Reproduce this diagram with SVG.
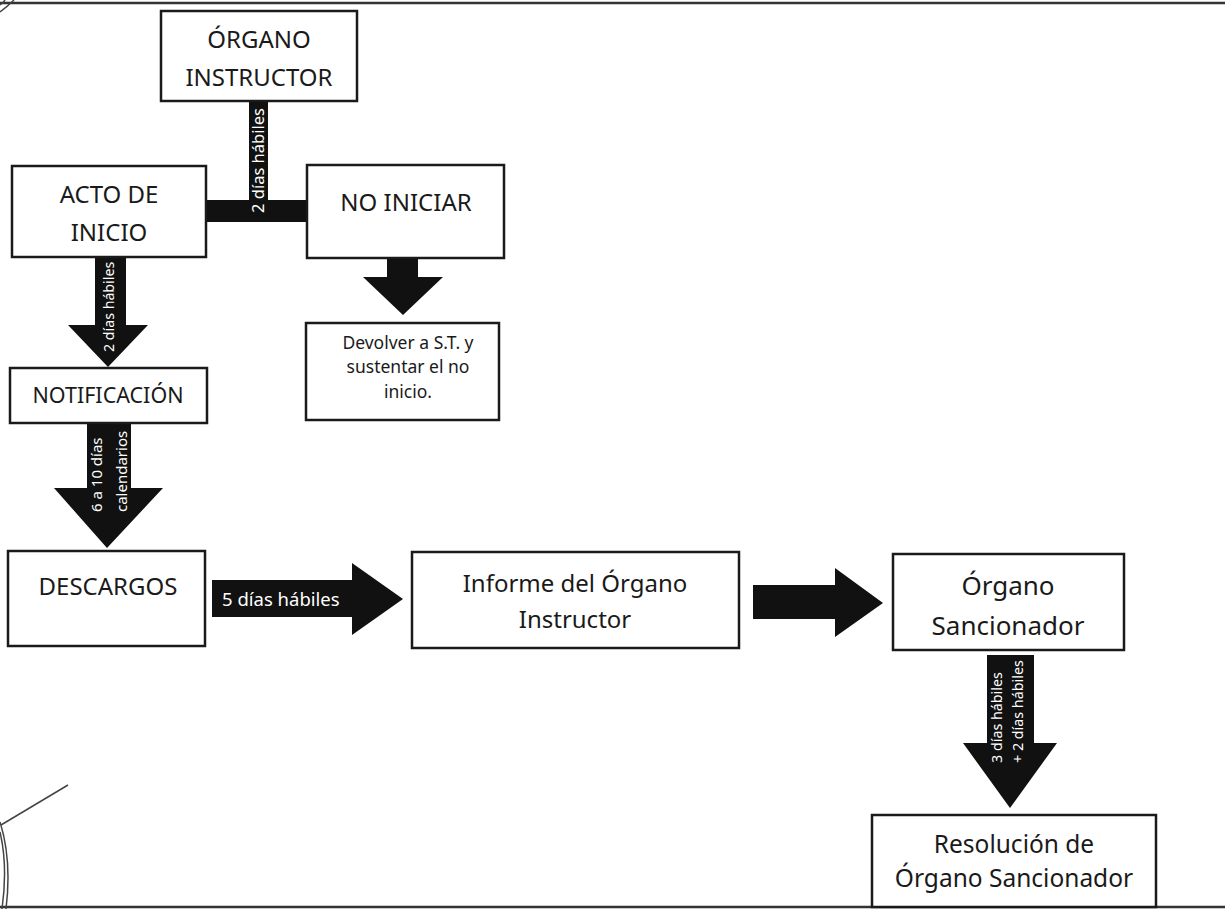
<svg xmlns="http://www.w3.org/2000/svg" width="1225" height="909" viewBox="0 0 1225 909">
<style>
.box{fill:#fff;stroke:#1a1a1a;stroke-width:2.5}
.lbl{font-family:"Noto Sans","Open Sans",sans-serif;font-size:24px;fill:#1a1a1a;text-anchor:middle}
.sm{font-size:17.5px}
.arr{fill:#111}
.wt{font-family:"Noto Sans","Open Sans",sans-serif;fill:#fff;font-size:15px}
.frame{stroke:#333;stroke-width:2.5;fill:none}
.stamp{stroke:#444;stroke-width:1.5;fill:none}
</style>
<rect width="1225" height="909" fill="#fff"/>
<g id="frame">
<line class="frame" x1="0" y1="3" x2="1225" y2="3"/>
<line class="frame" x1="0" y1="907" x2="1225" y2="907"/>
<path class="stamp" d="M0,12 Q8,6 14,0"/>
<path class="stamp" d="M0,5 Q3,3 5,0"/>
<path class="stamp" d="M0,822 Q12,860 6,909"/>
<path class="stamp" d="M0,832 Q8,866 2,909"/>
<line class="stamp" x1="1" y1="825" x2="68" y2="785"/>
</g>
<g id="connectors">
<path class="arr" d="M249,101 H268 V200 H307 V222 H206 V200 H249 Z"/>
<text class="wt" style="font-size:16.5px" transform="translate(264,213) rotate(-90)">2 días hábiles</text>
<polygon class="arr" points="95,258 126,258 126,325 148,325 108,367 68,325 95,325"/>
<text class="wt" style="font-size:14.2px" transform="translate(114,352) rotate(-90)">2 días hábiles</text>
<polygon class="arr" points="87,424 131,424 131,488 163,488 107,548 54,488 87,488"/>
<text class="wt" transform="translate(102,512) rotate(-90)">6 a 10 días</text>
<text class="wt" transform="translate(127,512) rotate(-90)">calendarios</text>
<polygon class="arr" points="387,259 418,259 418,277 443,277 403,315 363,277 387,277"/>
<polygon class="arr" points="212,580 352,580 352,563 403,599 352,635 352,617 212,617"/>
<text class="wt" style="font-size:18.5px" x="222" y="606">5 días hábiles</text>
<polygon class="arr" points="753,585 835,585 835,568 883,603 835,637 835,619 753,619"/>
<polygon class="arr" points="987,655 1034,655 1034,743 1057,743 1010,808 963,743 987,743"/>
<text class="wt" style="font-size:14.3px" transform="translate(1002,763) rotate(-90)">3 días hábiles</text>
<text class="wt" style="font-size:14.3px" transform="translate(1023,763) rotate(-90)">+ 2 días hábiles</text>
</g>
<g id="organo-instructor">
<rect class="box" x="161" y="11" width="196" height="90"/>
<text class="lbl" x="259" y="48">ÓRGANO</text>
<text class="lbl" x="259" y="86">INSTRUCTOR</text>
</g>
<g id="acto-de-inicio">
<rect class="box" x="12" y="166" width="194" height="91"/>
<text class="lbl" x="109" y="203">ACTO DE</text>
<text class="lbl" x="109" y="241">INICIO</text>
</g>
<g id="no-iniciar">
<rect class="box" x="307" y="165" width="197" height="93"/>
<text class="lbl" x="406" y="211">NO INICIAR</text>
</g>
<g id="devolver">
<rect class="box" x="306" y="323" width="193" height="97"/>
<text class="lbl sm" x="408" y="349">Devolver a S.T. y</text>
<text class="lbl sm" x="408" y="373">sustentar el no</text>
<text class="lbl sm" x="408" y="398">inicio.</text>
</g>
<g id="notificacion">
<rect class="box" x="10" y="368" width="197" height="55"/>
<text class="lbl" style="font-size:21.5px" x="108" y="403">NOTIFICACIÓN</text>
</g>
<g id="descargos">
<rect class="box" x="8" y="551" width="197" height="95"/>
<text class="lbl" x="108" y="595">DESCARGOS</text>
</g>
<g id="informe">
<rect class="box" x="412" y="552" width="327" height="96"/>
<text class="lbl" x="575" y="592">Informe del Órgano</text>
<text class="lbl" x="575" y="628">Instructor</text>
</g>
<g id="organo-sancionador">
<rect class="box" x="893" y="554" width="231" height="96"/>
<text class="lbl" style="font-size:26px" x="1008" y="595">Órgano</text>
<text class="lbl" style="font-size:26px" x="1008" y="635">Sancionador</text>
</g>
<g id="resolucion">
<rect class="box" x="872" y="815" width="284" height="92"/>
<text class="lbl" style="font-size:24.5px" x="1014" y="853">Resolución de</text>
<text class="lbl" style="font-size:24.5px" x="1014" y="887">Órgano Sancionador</text>
</g>
</svg>
